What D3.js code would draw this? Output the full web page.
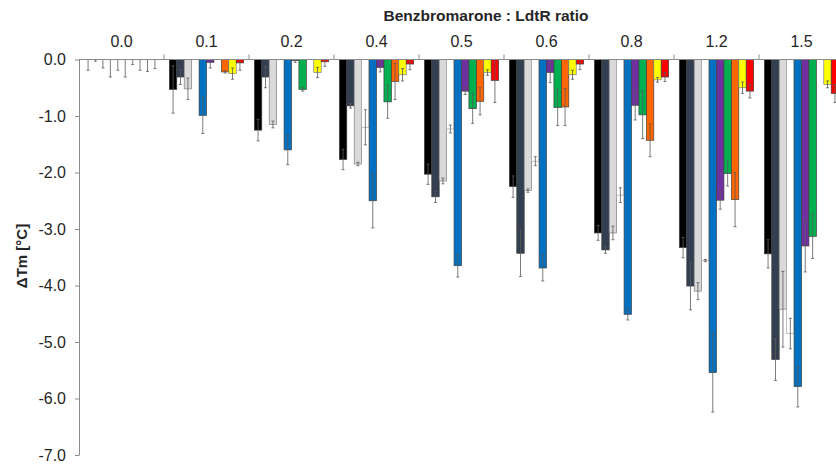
<!DOCTYPE html>
<html>
<head>
<meta charset="utf-8">
<script src="https://cdn.jsdelivr.net/npm/d3@7"></script>
<style>
  html, body { margin: 0; padding: 0; background: #fff; }
  svg { display: block; font-family: Arial, 'Liberation Sans', sans-serif; }
</style>
</head>
<body>
<div id="container"></div>
<script>
// Benzbromarone : LdtR ratio groups
const ratios = ['0.0', '0.1', '0.2', '0.4', '0.5', '0.6', '0.8', '1.2', '1.5'];

// delta Tm per series (one value per ratio), and its error
const black     = [0, -0.53, -1.25, -1.77, -2.03, -2.25, -3.07, -3.33, -3.44];
const blackErr  = [0.19, 0.42, 0.19, 0.18, 0.18, 0.19, 0.13, 0.18, 0.25];
const slate     = [0, -0.31, -0.31, -0.82, -2.43, -3.43, -3.37, -4.01, -5.31];
const slateErr  = [0.03, 0.13, 0.19, 0.04, 0.10, 0.41, 0.06, 0.42, 0.37];
const grey      = [0, -0.52, -1.15, -1.85, -2.15, -2.32, -3.07, -4.10, -4.42];
const greyErr   = [0.15, 0.19, 0.06, 0.03, 0.05, 0.03, 0.12, 0.15, 0.67];
const white     = [0, 0, 0, -1.20, -1.23, -1.80, -2.40, -3.56, -4.85];
const whiteErr  = [0.31, 0, 0, 0.31, 0.07, 0.08, 0.13, 0.02, 0.27];
const blue      = [0, -0.99, -1.60, -2.50, -3.65, -3.69, -4.51, -5.54, -5.79];
const blueErr   = [0.19, 0.32, 0.26, 0.48, 0.20, 0.23, 0.10, 0.70, 0.36];
const purple    = [0, -0.05, -0.02, -0.14, -0.56, -0.23, -0.81, -2.49, -3.30];
const purpleErr = [0.31, 0.10, 0.03, 0.08, 0.06, 0.18, 0.26, 0.16, 0.46];
const green     = [0, 0, -0.53, -0.75, -0.87, -0.85, -0.98, -2.02, -3.13];
const greenErr  = [0.09, 0, 0.03, 0.29, 0.26, 0.32, 0.42, 0.22, 0.39];
const orange    = [0, -0.22, 0, -0.39, -0.74, -0.84, -1.43, -2.48, 0];
const orangeErr = [0.19, 0.02, 0, 0.32, 0.24, 0.33, 0.29, 0.48, 0];
const yellow    = [0, -0.25, -0.23, -0.27, -0.23, -0.27, -0.36, -0.50, -0.44];
const yellowErr = [0.21, 0.10, 0.09, 0.11, 0.05, 0.08, 0.04, 0.10, 0.06];
const red       = [0, -0.06, -0.04, -0.08, -0.37, -0.08, -0.31, -0.56, -0.60];
const redErr    = [0.16, 0.13, 0.08, 0.10, 0.39, 0.10, 0.08, 0.12, 0.16];

const yTicks = [0, -1, -2, -3, -4, -5, -6, -7];

const series = [
    { name: 'black',  fill: '#000000', stroke: '#404040', values: black,  errors: blackErr },
    { name: 'slate',  fill: '#333f50', stroke: '#404040', values: slate,  errors: slateErr },
    { name: 'grey',   fill: '#d9d9d9', stroke: '#7f7f7f', values: grey,   errors: greyErr },
    { name: 'white',  fill: '#ffffff', stroke: '#a6a6a6', values: white,  errors: whiteErr },
    { name: 'blue',   fill: '#0070c0', stroke: '#404040', values: blue,   errors: blueErr },
    { name: 'purple', fill: '#7030a0', stroke: '#404040', values: purple, errors: purpleErr },
    { name: 'green',  fill: '#00b050', stroke: '#404040', values: green,  errors: greenErr },
    { name: 'orange', fill: '#ff6600', stroke: '#404040', values: orange, errors: orangeErr },
    { name: 'yellow', fill: '#ffff00', stroke: '#7f7f7f', values: yellow, errors: yellowErr },
    { name: 'red',    fill: '#ff0000', stroke: '#404040', values: red,    errors: redErr }
];

const width = 836;
const height = 465;
const plotLeft = 79;
const plotTop = 59.5;
const plotBottom = 455;
const plotRight = 844;   // the plot runs past the right edge of the picture

const x0 = d3.scaleBand().domain(ratios).range([plotLeft, plotRight]).padding(0);
const x1 = d3.scaleBand().domain(series.map(s => s.name))
    .range([0, x0.bandwidth()]).paddingInner(0).paddingOuter(0.72);
const y = d3.scaleLinear().domain([0, -7]).range([plotTop, plotBottom]);

const svg = d3.select('#container').append('svg')
    .attr('width', width)
    .attr('height', height);

svg.append('defs').append('clipPath').attr('id', 'plot')
    .append('rect')
    .attr('x', plotLeft).attr('y', plotTop)
    .attr('width', plotRight - plotLeft).attr('height', plotBottom - plotTop);

const textColor = '#262626';
const axisColor = '#8c8c8c';

// bars
const plot = svg.append('g').attr('clip-path', 'url(#plot)');

const cells = [];
series.forEach((s) => {
    ratios.forEach((r, i) => {
        cells.push({ s: s, ratio: r, value: s.values[i], err: s.errors[i] });
    });
});

plot.append('g').selectAll('rect')
    .data(cells.filter(d => d.value !== 0))
    .enter().append('rect')
    .attr('x', d => x0(d.ratio) + x1(d.s.name))
    .attr('y', d => y(0))
    .attr('width', x1.bandwidth())
    .attr('height', d => y(d.value) - y(0))
    .style('fill', d => d.s.fill)
    .style('stroke', d => d.s.stroke)
    .style('stroke-width', 0.7);

// error bars
const errs = plot.append('g').selectAll('g')
    .data(cells.filter(d => d.err > 0))
    .enter().append('g')
    .attr('transform', d => `translate(${x0(d.ratio) + x1(d.s.name) + x1.bandwidth() / 2} 0)`)
    .style('stroke', '#595959')
    .style('stroke-width', 0.8);

errs.append('line')
    .attr('y1', d => y(d.value + d.err))
    .attr('y2', d => y(d.value - d.err));
errs.append('line')
    .attr('x1', -1.5).attr('x2', 1.5)
    .attr('y1', d => y(d.value + d.err))
    .attr('y2', d => y(d.value + d.err));
errs.append('line')
    .attr('x1', -1.5).attr('x2', 1.5)
    .attr('y1', d => y(d.value - d.err))
    .attr('y2', d => y(d.value - d.err));

// y axis
const yAxis = svg.append('g')
    .attr('transform', `translate(${plotLeft} 0)`)
    .call(d3.axisLeft(y).tickValues(yTicks).tickSize(4).tickSizeOuter(0).tickPadding(9)
        .tickFormat(d => d.toFixed(1)));
yAxis.select('.domain').style('stroke', axisColor);
yAxis.selectAll('.tick line').style('stroke', axisColor);
yAxis.selectAll('.tick text')
    .style('font-size', '16px')
    .style('fill', textColor);

// top axis with the group boundaries
svg.append('line')
    .attr('x1', plotLeft).attr('x2', plotRight)
    .attr('y1', plotTop).attr('y2', plotTop)
    .style('stroke', axisColor);

const bounds = ratios.map(r => x0(r)).concat([x0(ratios[ratios.length - 1]) + x0.bandwidth()]);
svg.append('g').selectAll('line')
    .data(bounds.slice(1))
    .enter().append('line')
    .attr('x1', d => d).attr('x2', d => d)
    .attr('y1', plotTop - 5).attr('y2', plotTop)
    .style('stroke', axisColor);

svg.append('g').selectAll('text')
    .data(ratios)
    .enter().append('text')
    .attr('x', d => x0(d) + x0.bandwidth() / 2)
    .attr('y', 47)
    .attr('text-anchor', 'middle')
    .style('font-size', '16px')
    .style('fill', textColor)
    .text(d => d);

// titles
svg.append('text')
    .attr('x', 486)
    .attr('y', 21)
    .attr('text-anchor', 'middle')
    .style('font-size', '15.5px')
    .style('font-weight', 'bold')
    .style('fill', textColor)
    .text('Benzbromarone : LdtR ratio');

svg.append('text')
    .attr('transform', 'translate(27 256) rotate(-90)')
    .attr('text-anchor', 'middle')
    .style('font-size', '15px')
    .style('font-weight', 'bold')
    .style('fill', textColor)
    .text('ΔTm [°C]');
</script>
</body>
</html>
